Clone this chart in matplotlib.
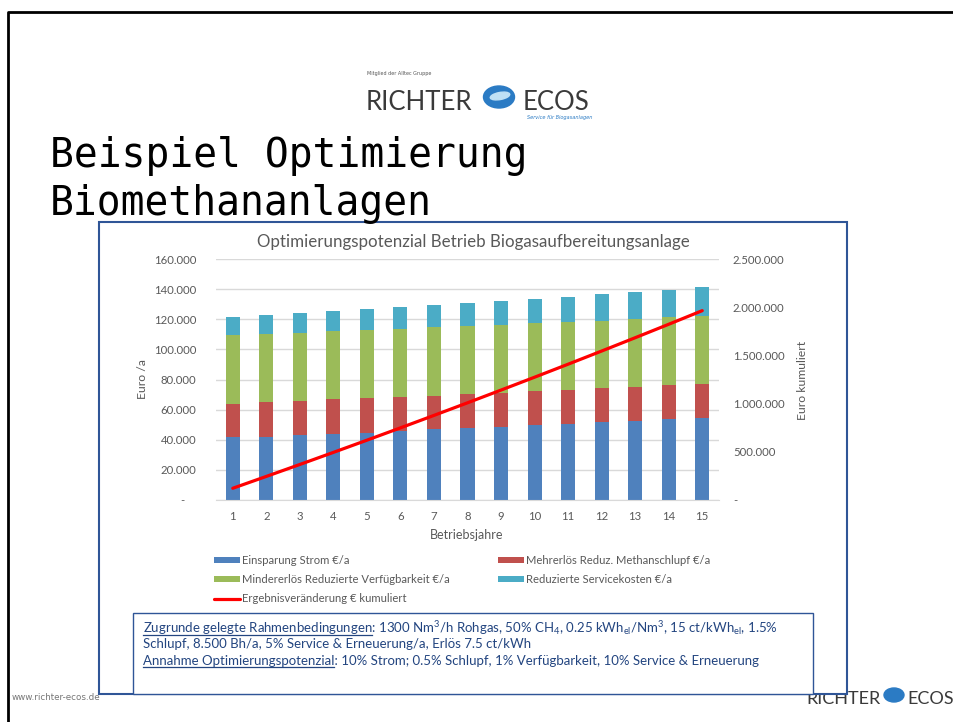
import matplotlib
matplotlib.use("Agg")
import matplotlib.pyplot as plt
import numpy as np
from matplotlib.patches import Rectangle, Ellipse
from matplotlib.lines import Line2D

# Werte (Euro/a) je Betriebsjahr
years = list(range(1, 16))
strom = [41600, 42000, 43100, 44000, 44700, 45600, 46900, 47600, 48500, 49600,
         50700, 51600, 52400, 53600, 54700]
methan = [22300, 22800, 22800, 22800, 23000, 23000, 22400, 22600, 22800, 22800,
          22500, 22500, 22800, 23000, 22600]
verfueg = [45400, 45200, 45000, 45200, 45000, 44900, 45300, 45100, 44700, 44900,
           45200, 45000, 45000, 44700, 45100]
service = [12400, 12800, 13100, 13300, 13900, 14400, 14700, 15300, 16100, 16100,
           16600, 17400, 17900, 18300, 18800]
kumuliert = [121700, 244500, 368500, 493800, 620400, 748300, 877600, 1008200,
             1140300, 1273700, 1408700, 1545200, 1683300, 1822900, 1964100]

labels = ["Einsparung Strom €/a", "Mehrerlös Reduz. Methanschlupf €/a",
          "Mindererlös Reduzierte Verfügbarkeit €/a", "Reduzierte Servicekosten €/a",
          "Ergebnisveränderung € kumuliert"]
colors = {"strom": "#4F81BD", "methan": "#C0504D", "verfueg": "#9BBB59",
          "service": "#4BACC6", "line": "#FF0000"}

GREY = "#595959"
NAVY = "#234580"
FONT = "Lato"

plt.rcParams["font.family"] = [FONT, "DejaVu Sans"]
plt.rcParams["mathtext.fontset"] = "custom"
plt.rcParams["mathtext.rm"] = FONT
plt.rcParams["mathtext.it"] = FONT + ":italic"

W, H = 954, 722
fig = plt.figure(figsize=(W / 100, H / 100), dpi=100)


def fx(px):
    return px / W


def fy(py):
    return 1 - py / H


# Folienrahmen
fig.add_artist(Line2D([fx(8), fx(8), 1], [0, fy(12), fy(12)], color="black", lw=2,
                      transform=fig.transFigure))

# Logo oben
fig.text(fx(367), fy(75), "Mitglied der Alltec Gruppe", fontsize=3.5, color="#555555",
         family="DejaVu Sans")
fig.text(fx(366), fy(110), "RICHTER", fontsize=18.5, color="#3A3A3A",
         va="baseline")
fig.add_artist(Ellipse((fx(499), fy(97)), fx(31), 22 / H, color="#2B7BC4",
                       transform=fig.transFigure))
fig.add_artist(Ellipse((fx(500), fy(96)), fx(20), 7 / H, angle=15, color="#BFE0F5",
                       transform=fig.transFigure))
fig.text(fx(523), fy(110), "ECOS", fontsize=18.5, color="#3A3A3A", va="baseline")
fig.text(fx(527), fy(119), "Service für Biogasanlagen", fontsize=3.6, color="#2B7BC4",
         style="italic", family="DejaVu Sans")

# Folientitel
fig.text(fx(50), fy(167), "Beispiel Optimierung", fontsize=28.5,
         family="DejaVu Sans Mono", va="baseline", zorder=5)
fig.text(fx(50), fy(215), "Biomethananlagen", fontsize=28.5,
         family="DejaVu Sans Mono", va="baseline", zorder=5)

# Logo unten rechts (teilweise vom Diagramm verdeckt)
fig.text(fx(806), fy(704), "RICHTER", fontsize=13, color="#3A3A3A",
         va="baseline", zorder=-3)
fig.add_artist(Ellipse((fx(894), fy(695)), fx(20), 14 / H, color="#2B7BC4",
                       transform=fig.transFigure, zorder=-3))
fig.text(fx(907), fy(704), "ECOS", fontsize=13, color="#3A3A3A",
         va="baseline", zorder=-3)
fig.text(fx(12), fy(700), "www.richter-ecos.de", fontsize=6.3, color="#777777",
         family="DejaVu Sans", va="baseline", zorder=-3)

# Diagrammrahmen
fig.add_artist(Rectangle((fx(99), fy(694)), fx(847) - fx(99), fy(222) - fy(694),
                         facecolor="white", edgecolor="#2F5597", lw=1.5,
                         transform=fig.transFigure, zorder=-2))

ax = fig.add_axes([fx(216), fy(500), fx(719) - fx(216), fy(259) - fy(500)])
ax.set_facecolor("none")
x = np.array(years)
bw = 0.42
bottom = np.zeros(len(years))
bars = []
for key, vals in [("strom", strom), ("methan", methan), ("verfueg", verfueg),
                  ("service", service)]:
    b = ax.bar(x, vals, bw, bottom=bottom, color=colors[key], zorder=2)
    bars.append(b)
    bottom = bottom + np.array(vals)

ax.set_xlim(0.5, 15.5)
ax.set_ylim(0, 160000)
ax.set_yticks(np.arange(0, 160001, 20000))
ax.set_xticks(x)
ax.set_xticklabels([str(v) for v in years])


def de_fmt(v, pos=None):
    if v == 0:
        return "-    "
    return f"{v:,.0f}".replace(",", ".")


ax.yaxis.set_major_formatter(plt.FuncFormatter(de_fmt))
ax.grid(axis="y", color="#D9D9D9", lw=1, zorder=0)
ax.set_axisbelow(True)
for s in ["top", "left", "right"]:
    ax.spines[s].set_visible(False)
ax.spines["bottom"].set_color("#D9D9D9")
ax.tick_params(axis="y", length=0, colors=GREY, labelsize=8.2, pad=14)
ax.tick_params(axis="x", length=0, colors=GREY, labelsize=8.2, pad=8)

ax2 = ax.twinx()
line, = ax2.plot(x, kumuliert, color=colors["line"], lw=2.3, solid_capstyle="round")
ax2.set_ylim(0, 2500000)
ax2.set_yticks(np.arange(0, 2500001, 500000))
ax2.yaxis.set_major_formatter(plt.FuncFormatter(
    lambda v, p: "-" if v == 0 else f"{v:,.0f}".replace(",", ".")))
for s in ax2.spines.values():
    s.set_visible(False)
ax2.tick_params(axis="y", length=0, colors=GREY, labelsize=8.2, pad=10)

fig.text(fx(473), fy(242), "Optimierungspotenzial Betrieb Biogasaufbereitungsanlage",
         ha="center", va="center", fontsize=12.2, color=GREY)
fig.text(fx(143), fy(379), "Euro /a", rotation=90, ha="center", va="center",
         fontsize=8.8, color=GREY)
fig.text(fx(803), fy(380), "Euro kumuliert", rotation=90, ha="center", va="center",
         fontsize=8.8, color=GREY)
fig.text(fx(467), fy(535), "Betriebsjahre", ha="center", va="center",
         fontsize=9, color=GREY)

handles = [bars[0], bars[2], line, bars[1], bars[3]]
hlabels = [labels[0], labels[2], labels[4], labels[1], labels[3]]
fig.legend(handles, hlabels, ncol=2, loc="upper left",
           bbox_to_anchor=(fx(214), fy(555)), frameon=False, fontsize=8.1,
           labelcolor=GREY, borderpad=0, borderaxespad=0, handlelength=2.3,
           handleheight=0.5, handletextpad=0.2, labelspacing=0.72,
           columnspacing=4.3)

# Rahmenbedingungen
fig.add_artist(Rectangle((fx(133), fy(694)), fx(813) - fx(133), fy(613) - fy(694),
                         facecolor="white", edgecolor="#2F5597", lw=1,
                         transform=fig.transFigure, zorder=1))
note_lines = [
    ("Zugrunde gelegte Rahmenbedingungen",
     ": 1300 Nm$^3$/h Rohgas, 50% CH$_4$, 0.25 kWh$_{\\mathrm{el}}$/Nm$^3$, "
     "15 ct/kWh$_{\\mathrm{el}}$, 1.5%"),
    ("", "Schlupf, 8.500 Bh/a, 5% Service & Erneuerung/a, Erlös 7.5 ct/kWh"),
    ("Annahme Optimierungspotenzial",
     ": 10% Strom; 0.5% Schlupf, 1% Verfügbarkeit, 10% Service & Erneuerung"),
]
note_y = [632.5, 648.5, 665]
note_size = 9.5
fig.canvas.draw()
renderer = fig.canvas.get_renderer()
for (head, rest), yy in zip(note_lines, note_y):
    fig.text(fx(143), fy(yy), head + rest, fontsize=note_size, color=NAVY,
             va="baseline", zorder=2)
    if head:
        probe = fig.text(fx(143), fy(yy), head, fontsize=note_size, va="baseline")
        bb = probe.get_window_extent(renderer)
        probe.remove()
        fig.add_artist(Line2D([bb.x0 / W, bb.x1 / W], [fy(yy + 2), fy(yy + 2)],
                              color=NAVY, lw=0.9, transform=fig.transFigure,
                              zorder=2))

fig.savefig("out.png", dpi=100)
